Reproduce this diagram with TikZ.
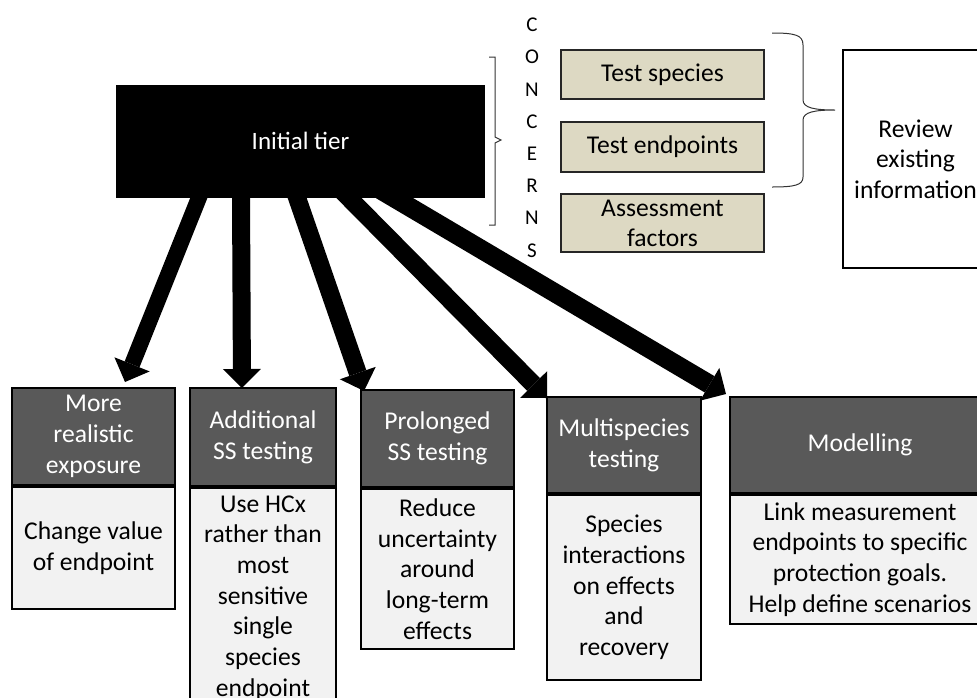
\documentclass[tikz,border=0pt]{standalone}
\usepackage{fontspec}
\setmainfont{Carlito}
\usetikzlibrary{arrows.meta,backgrounds,calc}
\definecolor{hdrgray}{HTML}{595959}
\definecolor{bodygray}{HTML}{F2F2F2}
\definecolor{tanfill}{HTML}{DDD9C3}
\begin{document}
\begin{tikzpicture}[x=1pt,y=-1pt,
  font=\fontsize{25.6}{30.7}\selectfont,
  box/.style={draw=black, line width=2pt, align=center, inner sep=0pt},
  hdr/.style={box, fill=hdrgray, text=white},
  bodyb/.style={box, fill=bodygray, anchor=north},
  tanbox/.style={draw=black!85, line width=2pt, fill=tanfill, align=center, inner sep=0pt, minimum width=203pt},
  bigarrow/.style={line width=18pt, -{Triangle[width=38pt,length=19pt,line width=0pt]}},
  concern/.style={font=\fontsize{21}{21}\selectfont, inner sep=0pt},
  bracepath/.style={draw=black!80, line width=1pt}]
\useasboundingbox (0,0) rectangle (977,697);

% top part
\node[box, fill=black, text=white, font=\fontsize{25}{30.7}\selectfont, minimum width=367pt, minimum height=111pt] (init) at (300.5,141) {Initial tier};

\foreach \l [count=\i from 0] in {C,O,N,C,E,R,N,S}
  \node[concern] (c\i) at (532,{25+32.2*\i}) {\l};

\draw[bracepath] (489,57) -- (495,57) -- (495,137) -- (501,140) -- (495,143) -- (495,225) -- (489,225);

\node[tanbox, minimum height=49pt] (ts) at (662.5,74.5) {Test species};
\node[tanbox, minimum height=50pt] (te) at (662.5,147) {Test endpoints};
\node[tanbox, minimum height=58pt, font=\fontsize{25.6}{30}\selectfont] (af) at (662.5,223) {Assessment\\factors};

\draw[bracepath] (772,33) .. controls (795,33) and (803,35) .. (803,45) -- (803,100)
  .. controls (803,108) and (815,110) .. (835,110)
  .. controls (815,110) and (803,112) .. (803,120) -- (803,177)
  .. controls (803,185) and (795,187) .. (772,187);

\node[box, fill=white, minimum width=145pt, minimum height=218pt] (rev) at (915.5,159) {Review\\existing\\information};

% bottom boxes
\node[hdr, minimum width=163pt, minimum height=97pt] (b1h) at (93.5,436.5) {More\\realistic\\exposure};
\node[bodyb, minimum width=163pt, minimum height=122pt] (b1b) at (b1h.south) {Change value\\of endpoint};

\node[hdr, minimum width=146pt, minimum height=98pt] (b2h) at (263,437) {Additional\\SS testing};
\node[bodyb, minimum width=146pt, minimum height=220pt] (b2b) at (b2h.south) {Use HCx\\rather than\\most\\sensitive\\single\\species\\endpoint};

\node[hdr, minimum width=153pt, minimum height=97pt] (b3h) at (437.5,438.5) {Prolonged\\SS testing};
\node[bodyb, minimum width=153pt, minimum height=160pt] (b3b) at (b3h.south) {Reduce\\uncertainty\\around\\long-term\\effects};

\node[hdr, minimum width=154pt, minimum height=96pt] (b4h) at (624,445) {Multispecies\\testing};
\node[bodyb, minimum width=154pt, minimum height=185pt] (b4b) at (b4h.south) {Species\\interactions\\on effects\\and\\recovery};

\node[hdr, minimum width=260pt, minimum height=96pt] (b5h) at (860,445) {Modelling};
\node[bodyb, minimum width=260pt, minimum height=129pt] (b5b) at (b5h.south) {Link measurement\\endpoints to specific\\protection goals.\\Help define scenarios};

% arrows
\coordinate (s1) at ([xshift=83pt]init.south west);
\coordinate (s2) at ([xshift=125pt]init.south west);
\coordinate (s3) at ([xshift=181pt]init.south west);
\coordinate (s4) at ([xshift=232.5pt]init.south west);
\coordinate (s5) at ([xshift=277.5pt]init.south west);
\coordinate (t1) at ([xshift=31.5pt,yshift=5pt]b1h.north);
\coordinate (t2) at ([xshift=-21pt,yshift=-1pt]b2h.north);
\coordinate (t3) at ([xshift=4pt,yshift=-2pt]b3h.north west);
\coordinate (t4) at ([xshift=1pt,yshift=-2pt]b4h.north west);
\coordinate (t5) at ([xshift=-3pt,yshift=2pt]b5h.north west);
\begin{scope}[on background layer]
\draw[bigarrow, line width=16pt] ($(s1)!-15pt!(t1)$) -- (t1);
\draw[bigarrow] ($(s2)!-15pt!(t2)$) -- (t2);
\draw[bigarrow] ($(s3)!-15pt!(t3)$) -- (t3);
\draw[bigarrow] ($(s4)!-15pt!(t4)$) -- (t4);
\draw[bigarrow, line width=19pt] ($(s5)!-15pt!(t5)$) -- (t5);
\end{scope}
\end{tikzpicture}
\end{document}
